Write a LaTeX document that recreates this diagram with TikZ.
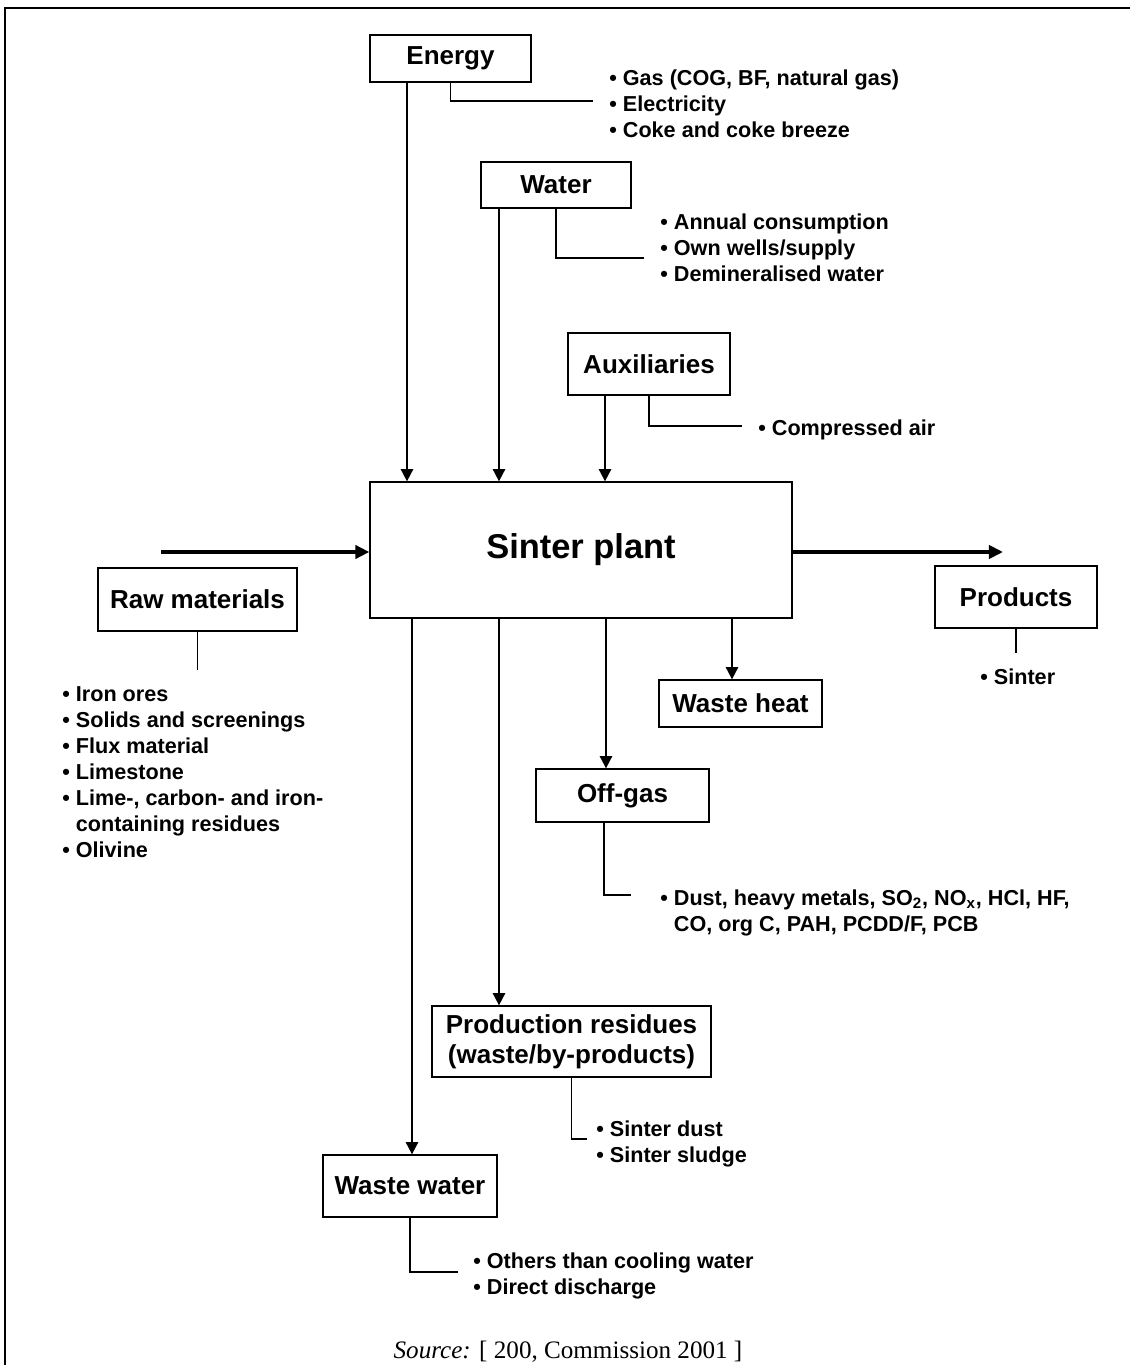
\documentclass[tikz,border=0pt]{standalone}
\usepackage{fontspec}
\setmainfont{Liberation Sans}
\newfontfamily\srcfont{Liberation Serif}
\usepackage{tikz}
\usetikzlibrary{arrows.meta}

\begin{document}
\begin{tikzpicture}[
            x=0.02cm, y=-0.02cm,
            % Style for the boxes
            flowbox/.style={draw, line width=0.75pt, inner sep=0pt, align=center, font=\bfseries\fontsize{14.8}{17}\selectfont},
            % Style for the bullet lists (top left corner)
            bullets/.style={anchor=north west, inner sep=0pt, align=left, font=\bfseries\fontsize{12.3}{14.8}\selectfont},
            % Arrow styles
            arr/.style={-{Triangle[length=7pt,width=7pt]}, line width=1.1pt},
            bigarr/.style={-{Triangle[length=8pt,width=7.5pt]}, line width=2.7pt},
            % Thin lines from a box to its list
            leader/.style={line width=0.6pt}
        ]
            \useasboundingbox (0,0) rectangle (1130,1365);
            % outer frame (top and left side only)
            \draw[line width=1.7pt] (5,1365) -- (5,8) -- (1130,8);

            % --- 1. CENTRAL BOX ---
            \node[draw, line width=0.75pt, minimum width=8.44cm, minimum height=2.72cm, font=\bfseries\fontsize{19.6}{23}\selectfont] (sinter) at (581,550) {Sinter plant};

            % --- 2. INPUTS FROM ABOVE ---
            \node[flowbox, minimum width=3.22cm, minimum height=0.94cm] (energy) at (450.5,58.5) {Energy};
            \node[flowbox, minimum width=3.0cm, minimum height=0.92cm] (water) at (556,185) {Water};
            \node[flowbox, minimum width=3.24cm, minimum height=1.24cm] (aux) at (649,364) {Auxiliaries};

            \draw[arr] (energy.south -| 407,0) -- (sinter.north -| 407,0);
            \draw[arr] (water.south -| 499,0) -- (sinter.north -| 499,0);
            \draw[arr] (aux.south -| 605,0) -- (sinter.north -| 605,0);

            \coordinate (energy-end) at (593,101);
            \draw[leader] (energy.south) |- (energy-end);
            \node[bullets] (energy-list) at (609,66.5) {\strut• Gas (COG, BF, natural gas)\\\strut• Electricity\\\strut• Coke and coke breeze};

            \coordinate (water-end) at (644,258);
            \draw[leader] (water.south) |- (water-end);
            \node[bullets] (water-list) at (660,210.5) {\strut• Annual consumption\\\strut• Own wells/supply\\\strut• Demineralised water};

            \coordinate (aux-end) at (742,426);
            \draw[leader] (aux.south) |- (aux-end);
            \node[bullets] (aux-list) at (758,416.5) {\strut• Compressed air};

            % --- 3. RAW MATERIALS (left) ---
            \coordinate (raw-in) at (161,552);
            \draw[bigarr] (raw-in) -- (sinter.west |- raw-in);
            \node[flowbox, minimum width=3.98cm, minimum height=1.26cm] (raw) at (197.5,599.5) {Raw materials};
            \coordinate (raw-end) at (197.5,670);
            \draw[leader] (raw.south) -- (raw-end);
            \node[bullets] (raw-list) at (62,682.5) {\strut• Iron ores\\\strut• Solids and screenings\\\strut• Flux material\\\strut• Limestone\\\strut• Lime-, carbon- and iron-\\\strut\hphantom{• }containing residues\\\strut• Olivine};

            % --- 4. PRODUCTS (right) ---
            \coordinate (prod-out) at (1003,552);
            \draw[bigarr] (sinter.east |- prod-out) -- (prod-out);
            \node[flowbox, minimum width=3.24cm, minimum height=1.24cm] (prod) at (1016,597) {Products};
            \coordinate (prod-end) at (1016,653);
            \draw[leader] (prod.south) -- (prod-end);
            \node[bullets] (prod-list) at (980,665.5) {\strut• Sinter};

            % --- 5. OUTPUTS BELOW ---
            \node[flowbox, minimum width=3.26cm, minimum height=0.94cm] (heat) at (740.5,703.5) {Waste heat};
            \node[flowbox, minimum width=3.46cm, minimum height=1.06cm] (offgas) at (622.5,795.5) {Off-gas};
            \node[flowbox, minimum width=5.58cm, minimum height=1.42cm] (resid) at (571.5,1041.5) {Production residues\\(waste/by-products)};
            \node[flowbox, minimum width=3.48cm, minimum height=1.24cm] (wwater) at (410,1186) {Waste water};

            \draw[arr] (sinter.south -| 732,0) -- (heat.north -| 732,0);
            \draw[arr] (sinter.south -| 606,0) -- (offgas.north -| 606,0);
            \draw[arr] (sinter.south -| 499,0) -- (resid.north -| 499,0);
            \draw[arr] (sinter.south -| 412,0) -- (wwater.north -| 412,0);

            \coordinate (offgas-end) at (631,895);
            \draw[leader] (offgas.south -| 604,0) |- (offgas-end);
            \node[bullets] (offgas-list) at (660,886.5) {\strut• Dust, heavy metals, SO\textsubscript{2}, NO\textsubscript{x}, HCl, HF,\\\strut\hphantom{• }CO, org C, PAH, PCDD/F, PCB};

            \coordinate (resid-end) at (587,1139);
            \draw[leader] (resid.south) |- (resid-end);
            \node[bullets] (resid-list) at (596,1117.5) {\strut• Sinter dust\\\strut• Sinter sludge};

            \coordinate (wwater-end) at (458,1272);
            \draw[leader] (wwater.south) |- (wwater-end);
            \node[bullets] (wwater-list) at (473,1249.5) {\strut• Others than cooling water\\\strut• Direct discharge};

            % --- 6. SOURCE ---
            \node[font=\srcfont\fontsize{14.3}{17}\selectfont] (source) at (568,1352) {\textit{Source:} [ 200, Commission 2001 ]};

        \end{tikzpicture}
\end{document}
